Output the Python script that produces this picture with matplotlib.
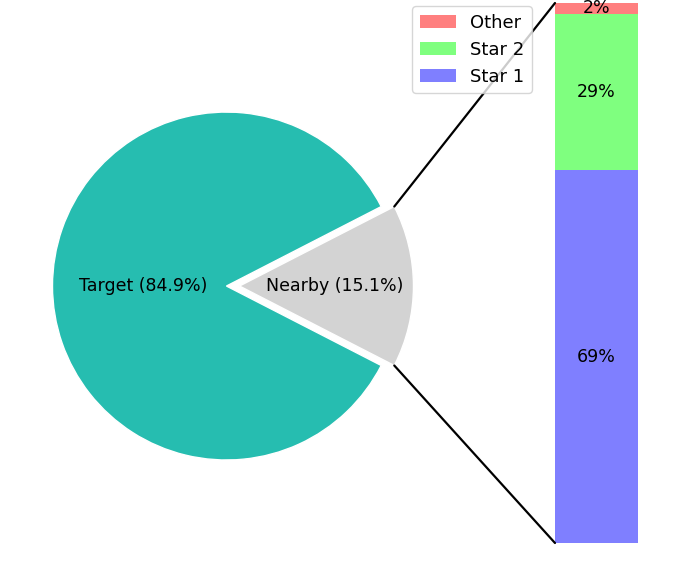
import numpy as np
import matplotlib
matplotlib.use("Agg")
import matplotlib.pyplot as plt
from matplotlib.patches import ConnectionPatch

# pie data
pie_labels = ["Target", "Nearby"]
pie_ratios = [0.849, 0.151]
pie_colors = ["#26bdb0", "#d3d3d3"]

# bar data (bottom to top)
bar_labels = ["Star 1", "Star 2", "Other"]
bar_ratios = [0.69, 0.29, 0.02]
bar_colors = ["blue", "lime", "red"]

fig = plt.figure(figsize=(6.97, 5.7), dpi=100)
ax1 = fig.add_axes([0.0129, 0.1167, 0.624, 0.763])
ax2 = fig.add_axes([406 / 697, 0.0, 291 / 697, 1.0])

angle = 180 * pie_ratios[1]
wedges, texts = ax1.pie(pie_ratios, colors=pie_colors, startangle=angle,
                        explode=[0, 0.075],
                        labels=[f"{l} ({r*100:.1f}%)" for l, r in zip(pie_labels, pie_ratios)],
                        wedgeprops=dict(edgecolor="white", linewidth=1),
                        textprops=dict(fontsize=12.5))
# put the labels inside the wedges
label_dist = [0.48, 0.55]
for w, t, d in zip(wedges, texts, label_dist):
    th = np.deg2rad((w.theta1 + w.theta2) / 2)
    t.set_position((w.center[0] + d * w.r * np.cos(th),
                    w.center[1] + d * w.r * np.sin(th)))
    t.set_ha("center")
    t.set_va("center")
ax1.set_xlim(-1.25, 1.25)
ax1.set_ylim(-1.25, 1.25)
ax1.set_aspect("equal")

bar_width = 0.2
bottom = 0
for h, lab, c in zip(bar_ratios, bar_labels, bar_colors):
    bc = ax2.bar(0, h, bar_width, bottom=bottom, color=c, alpha=0.5, label=lab)
    ax2.bar_label(bc, labels=[f"{h:.0%}"], label_type="center", fontsize=12.5)
    bottom += h

handles, labs = ax2.get_legend_handles_labels()
ax2.legend(handles[::-1], labs[::-1], loc="upper left", fontsize=13,
           borderaxespad=0.35)
ax2.axis("off")
ax2.set_xlim(-0.459, 0.2422)
ax2.set_ylim(-0.05, 1.0056)

# connecting lines
w = wedges[1]
theta1, theta2 = w.theta1, w.theta2
center, r = w.center, w.r
bar_height = sum(bar_ratios)

x = r * np.cos(np.pi / 180 * theta2) + center[0]
y = r * np.sin(np.pi / 180 * theta2) + center[1]
con = ConnectionPatch(xyA=(-bar_width / 2, bar_height), coordsA=ax2.transData,
                      xyB=(x, y), coordsB=ax1.transData)
con.set_color("black")
con.set_linewidth(1.6)
ax2.add_artist(con)

x = r * np.cos(np.pi / 180 * theta1) + center[0]
y = r * np.sin(np.pi / 180 * theta1) + center[1]
con = ConnectionPatch(xyA=(-bar_width / 2, 0), coordsA=ax2.transData,
                      xyB=(x, y), coordsB=ax1.transData)
con.set_color("black")
con.set_linewidth(1.6)
ax2.add_artist(con)

plt.savefig("out.png")
